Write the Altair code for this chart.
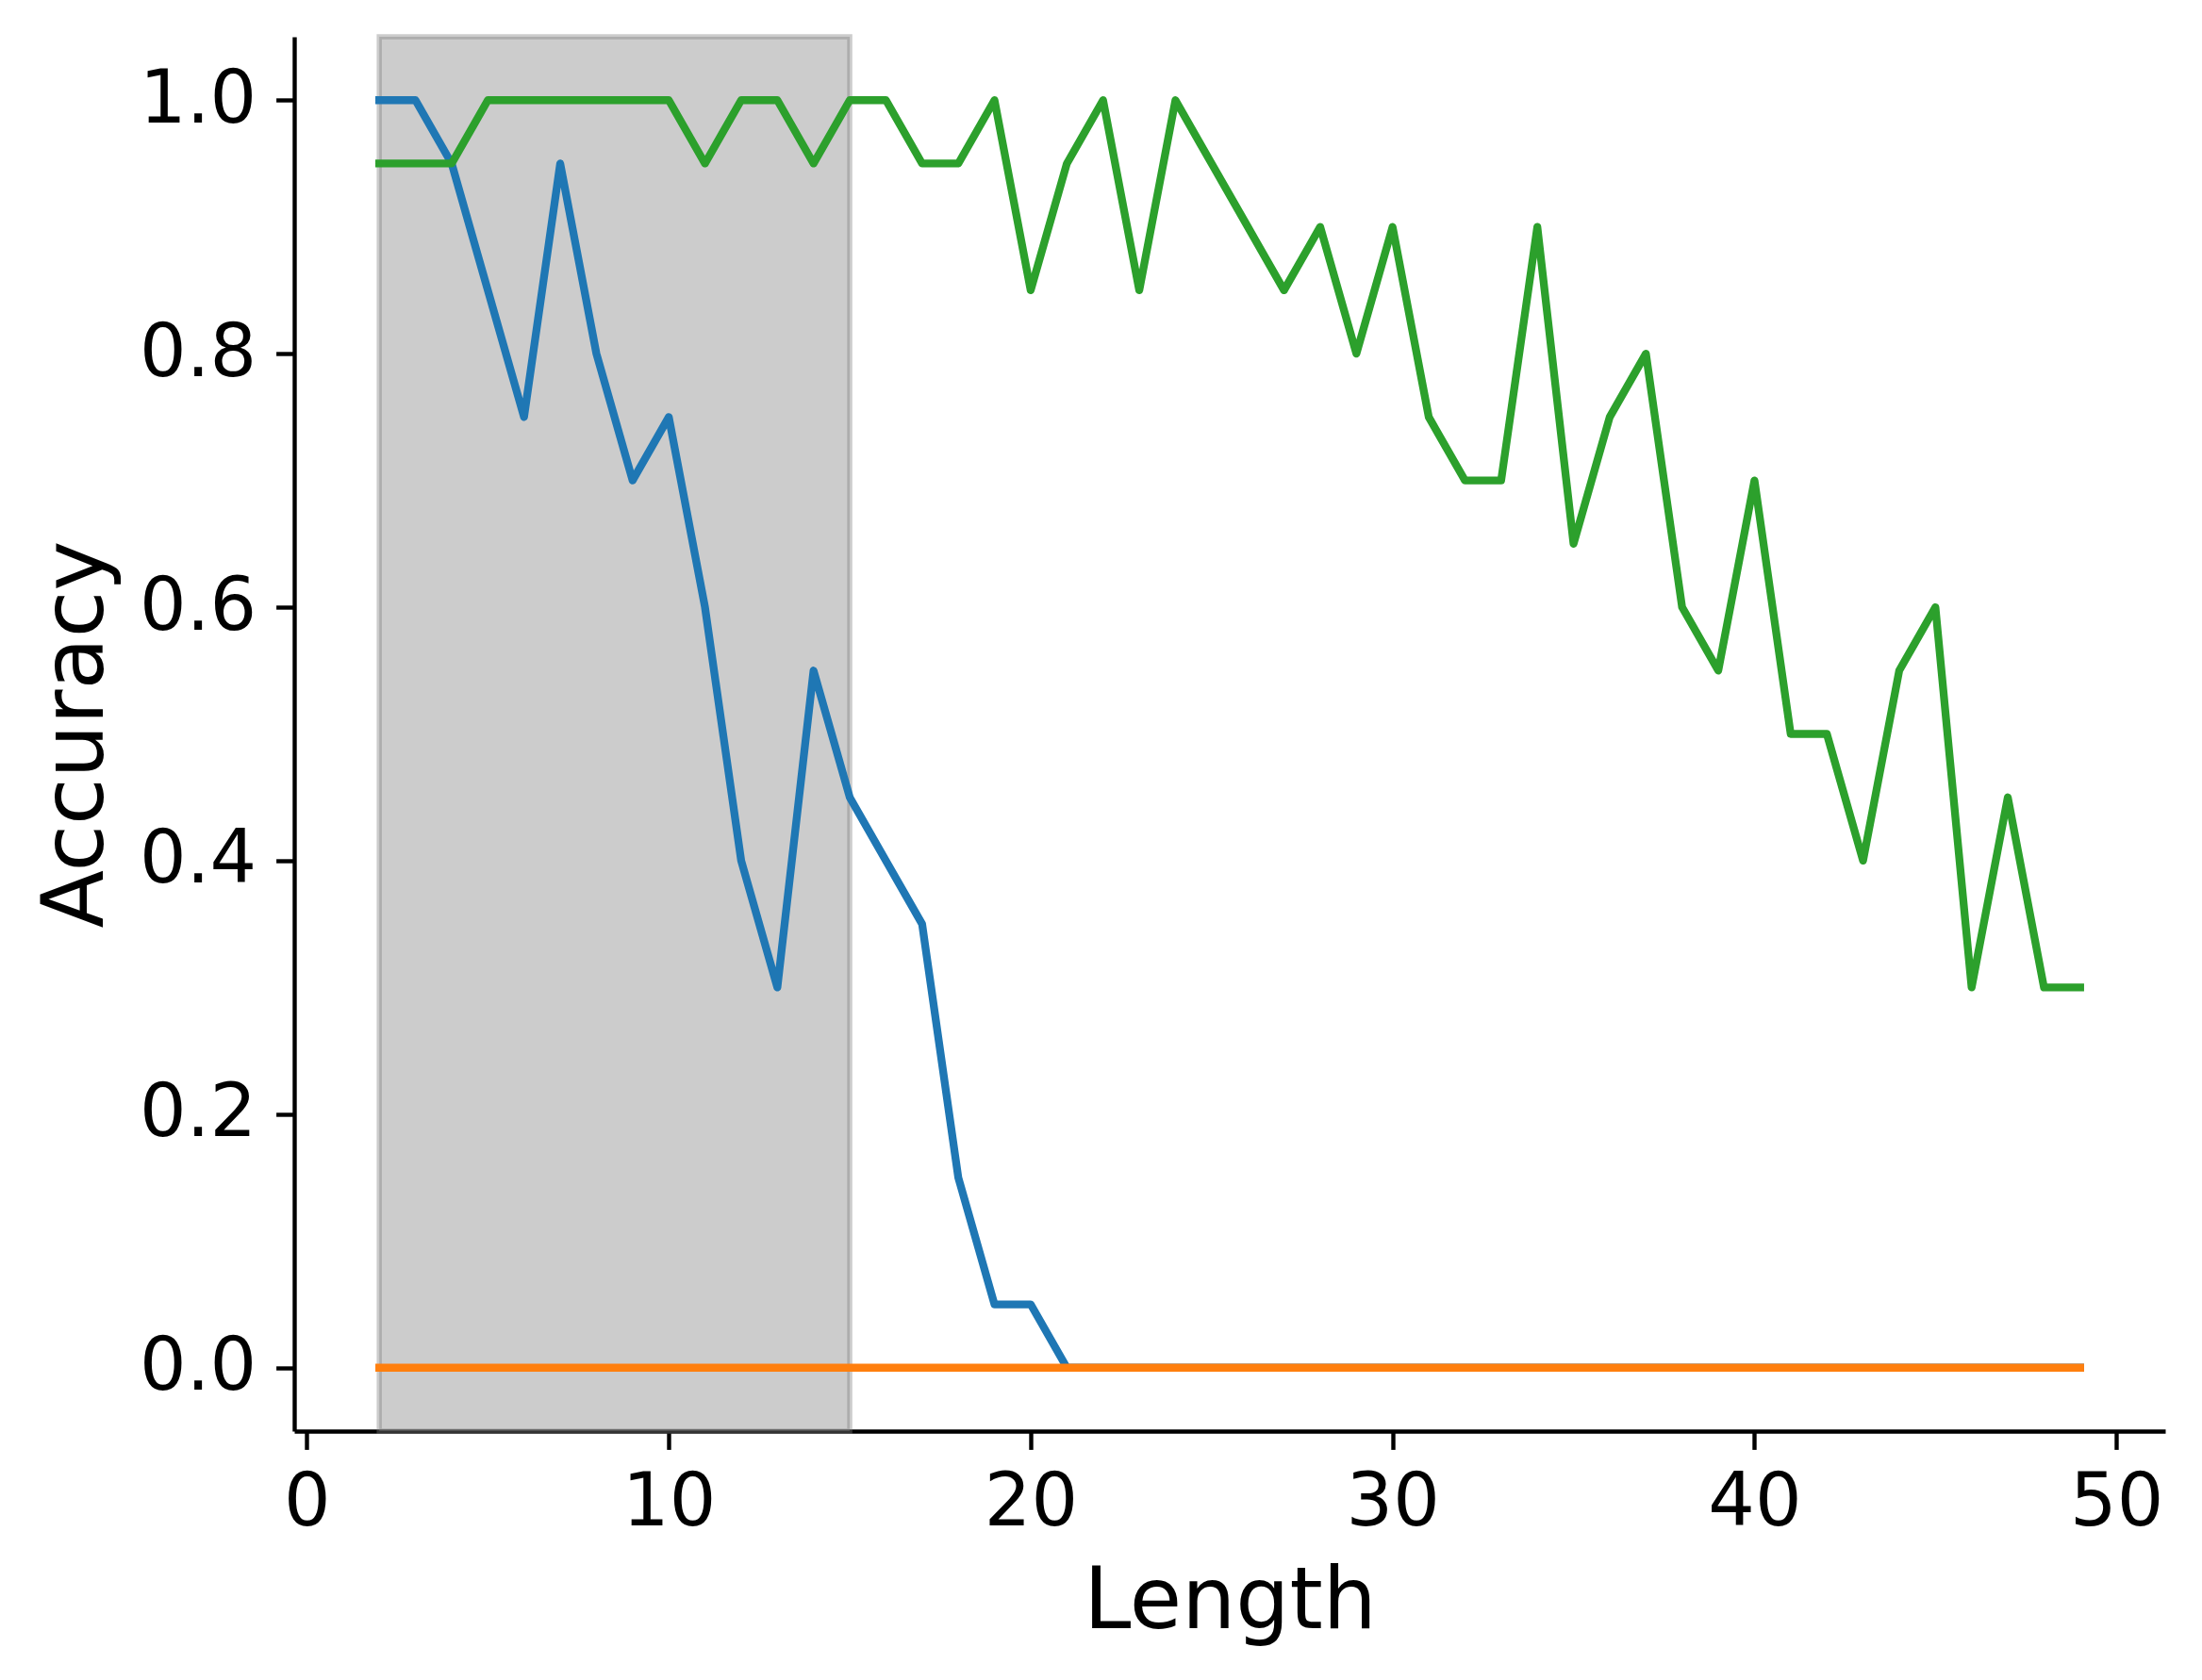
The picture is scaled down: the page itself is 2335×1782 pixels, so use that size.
import altair as alt
import pandas as pd

lengths = list(range(2, 50))
blue_acc = [1.0, 1.0, 0.95, 0.85, 0.75, 0.95, 0.8, 0.7, 0.75, 0.6, 0.4, 0.3, 0.55, 0.45,
            0.4, 0.35, 0.15, 0.05, 0.05, 0.0] + [0.0] * 28
orange_acc = [0.0] * 48
green_acc = [0.95, 0.95, 0.95, 1.0, 1.0, 1.0, 1.0, 1.0, 1.0, 0.95, 1.0, 1.0, 0.95, 1.0,
             1.0, 0.95, 0.95, 1.0, 0.85, 0.95, 1.0, 0.85, 1.0, 0.95, 0.9, 0.85, 0.9, 0.8,
             0.9, 0.75, 0.7, 0.7, 0.9, 0.65, 0.75, 0.8, 0.6, 0.55, 0.7, 0.5, 0.5, 0.4,
             0.55, 0.6, 0.3, 0.45, 0.3, 0.3]
span_start = [2]
span_end = [15]
x_ticks = [0, 10, 20, 30, 40, 50]
y_ticks = [0.0, 0.2, 0.4, 0.6, 0.8, 1.0]

W, H = 1984, 1479
FONT = "DejaVu Sans"

xscale = alt.Scale(domain=[-0.35, 51.35], nice=False, zero=False)
yscale = alt.Scale(domain=[-0.05, 1.05], nice=False, zero=False)

xaxis = alt.Axis(values=x_ticks, format="d", title="Length", titleFontSize=90,
                 titleFont=FONT, titleFontWeight="normal", titleColor="black",
                 titleY=208, titleBaseline="alphabetic", titleX=W / 2, titleAnchor="middle",
                 labelPadding=18)
yaxis = alt.Axis(values=y_ticks, format=".1f", title="Accuracy", titleFontSize=90,
                 titleFont=FONT, titleFontWeight="normal", titleColor="black",
                 titleX=-204, titleY=H / 2, titleAngle=270, titleBaseline="alphabetic",
                 titleAlign="center", labelPadding=21)

span_df = pd.DataFrame({"start": span_start, "end": span_end})
span = alt.Chart(span_df).mark_rect(
    fill="gray", fillOpacity=0.4, stroke="gray", strokeOpacity=0.4, strokeWidth=5.5
).encode(
    x=alt.X("start:Q", scale=xscale, axis=xaxis),
    x2="end:Q",
    y=alt.value(0),
    y2=alt.value(H),
)

def line(values, color):
    df = pd.DataFrame({"Length": lengths, "Accuracy": values})
    return alt.Chart(df).mark_line(
        color=color, strokeWidth=8.3, strokeCap="square", strokeJoin="round"
    ).encode(
        x=alt.X("Length:Q", scale=xscale, axis=xaxis),
        y=alt.Y("Accuracy:Q", scale=yscale, axis=yaxis),
    )

chart = alt.layer(
    span,
    line(blue_acc, "#1f77b4"),
    line(orange_acc, "#ff7f0e"),
    line(green_acc, "#2ca02c"),
).properties(
    width=W, height=H,
    autosize=alt.AutoSizeParams(type="none"),
    padding={"left": 304, "top": 31, "right": 20, "bottom": 240},
    background="white",
).configure_view(stroke=None).configure_axis(
    grid=False,
    domainColor="black", domainWidth=4.4,
    tickColor="black", tickWidth=4.4, tickSize=19.4,
    labelFont=FONT, labelFontSize=78, labelColor="black",
)

chart.save("out.html", embed_options={"renderer": "svg", "actions": False})
